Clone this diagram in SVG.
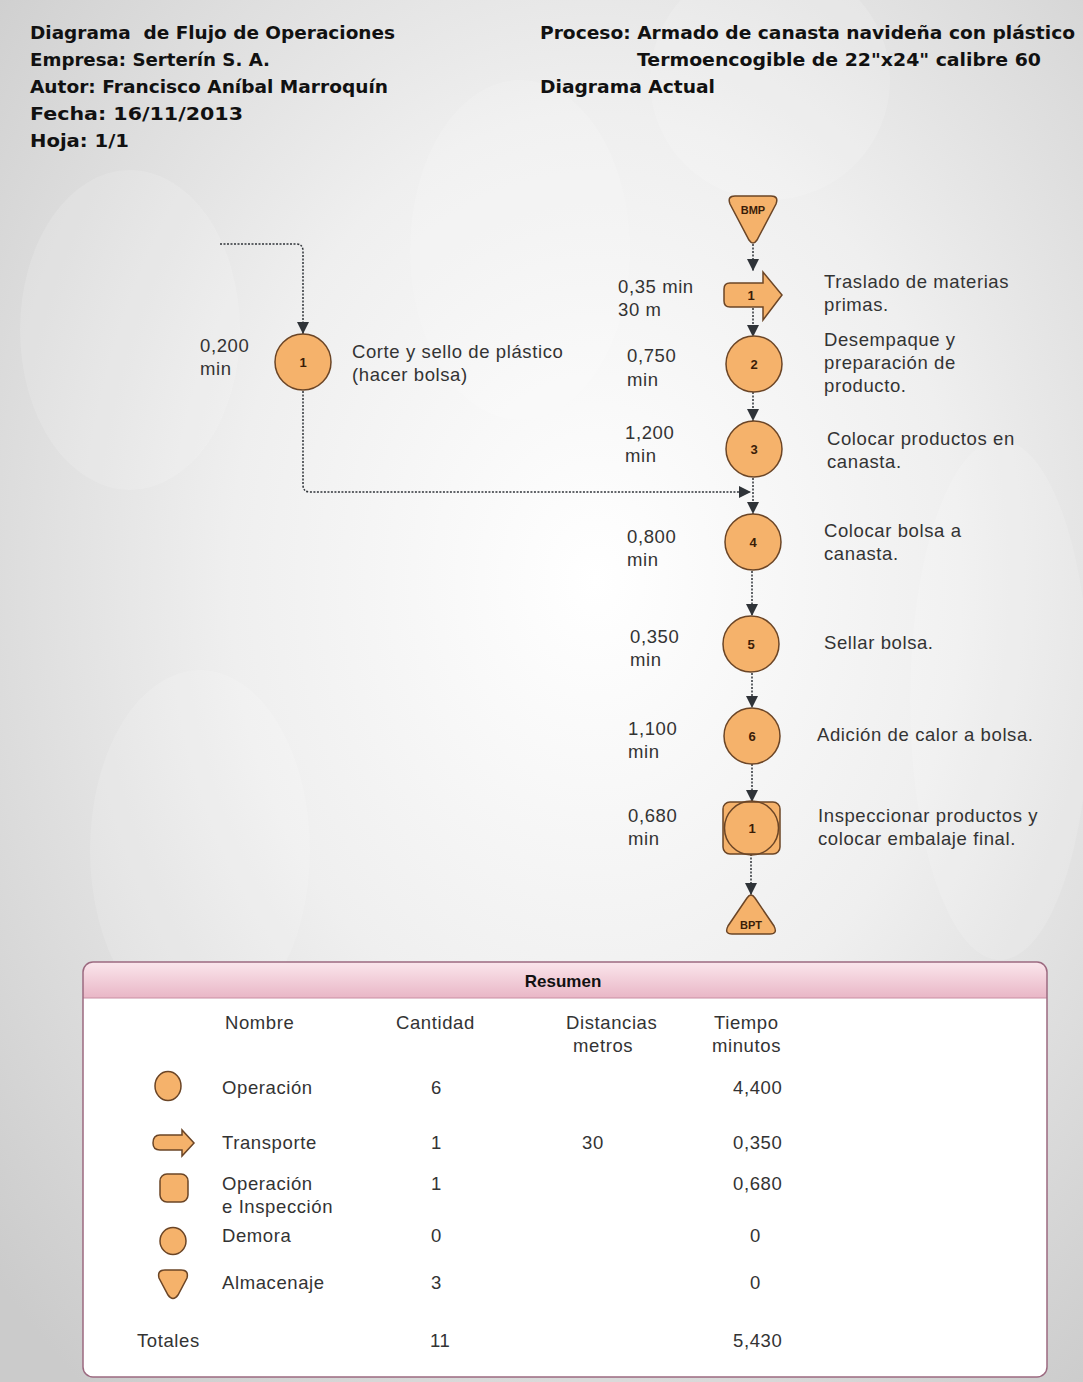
<svg xmlns="http://www.w3.org/2000/svg" width="1083" height="1382" viewBox="0 0 1083 1382">
<defs>
<radialGradient id="bg" cx="55%" cy="42%" r="75%">
<stop offset="0" stop-color="#ffffff"/>
<stop offset="0.45" stop-color="#efefef"/>
<stop offset="1" stop-color="#cbcbcb"/>
</radialGradient>
<linearGradient id="hdr" x1="0" y1="0" x2="0" y2="1">
<stop offset="0" stop-color="#fbe6ec"/>
<stop offset="1" stop-color="#e9b6c6"/>
</linearGradient>
<marker id="ah" viewBox="0 0 10 10" refX="10" refY="5" markerWidth="12" markerHeight="12" markerUnits="userSpaceOnUse" orient="auto">
<path d="M0,0 L10,5 L0,10 Z" fill="#2f3338"/>
</marker>
<style>
.h{font-family:"DejaVu Sans",Verdana,sans-serif;font-weight:bold;font-size:18.5px;fill:#111}
.t{font-family:"Liberation Sans",Arial,sans-serif;font-size:18.5px;letter-spacing:0.6px;fill:#333}
.n{font-family:"Liberation Sans",Arial,sans-serif;font-weight:bold;font-size:13px;fill:#3a1d08;text-anchor:middle}
.s{fill:#f5b26b;stroke:#6b4526;stroke-width:1.5}
.c{fill:none;stroke:#2f3338;stroke-width:1.5;stroke-dasharray:2,1.5;marker-end:url(#ah)}
</style>
</defs>
<rect x="0" y="0" width="1083" height="1382" fill="url(#bg)"/>
<g fill="#ffffff" opacity="0.14">
<ellipse cx="130" cy="330" rx="110" ry="160"/>
<ellipse cx="520" cy="250" rx="110" ry="170"/>
<ellipse cx="770" cy="80" rx="120" ry="120"/>
<ellipse cx="1000" cy="700" rx="90" ry="260"/>
<ellipse cx="200" cy="850" rx="110" ry="180"/>
</g>

<g id="header">
<text class="h" x="30" y="39" textLength="365" lengthAdjust="spacingAndGlyphs" xml:space="preserve">Diagrama  de Flujo de Operaciones</text>
<text class="h" x="30" y="66" textLength="240" lengthAdjust="spacingAndGlyphs">Empresa: Serterín S. A.</text>
<text class="h" x="30" y="93" textLength="358" lengthAdjust="spacingAndGlyphs">Autor: Francisco Aníbal Marroquín</text>
<text class="h" x="30" y="120" textLength="213" lengthAdjust="spacingAndGlyphs">Fecha: 16/11/2013</text>
<text class="h" x="30" y="147" textLength="99" lengthAdjust="spacingAndGlyphs">Hoja: 1/1</text>
<text class="h" x="540" y="39" textLength="535" lengthAdjust="spacingAndGlyphs">Proceso: Armado de canasta navideña con plástico</text>
<text class="h" x="637" y="66" textLength="404" lengthAdjust="spacingAndGlyphs">Termoencogible de 22"x24" calibre 60</text>
<text class="h" x="540" y="93" textLength="175" lengthAdjust="spacingAndGlyphs">Diagrama Actual</text>
</g>

<g id="connectors">
<path class="c" d="M753,244 V271"/>
<path class="c" d="M753,308 V337"/>
<path class="c" d="M753,392 V421"/>
<path class="c" d="M753,478 V514"/>
<path class="c" d="M220,244 H296 Q303,244 303,251 V334"/>
<path class="c" d="M303,391 V485 Q303,492 310,492 H751"/>
<path class="c" d="M752,571 V616"/>
<path class="c" d="M752,673 V708"/>
<path class="c" d="M752,764 V802"/>
<path class="c" d="M751,854 V895"/>
</g>

<g id="bmp">
<path class="s" d="M735,196 L771,196 Q779,196 776,204 L757,240 Q753,246 749,240 L730,204 Q727,196 735,196 Z"/>
<text class="n" x="753" y="214" style="font-size:11px">BMP</text>
</g>
<g id="transporte1">
<path class="s" d="M730,283 L763,283 L763,272 L782,295 L763,320 L763,307 L730,307 Q724,307 724,301 L724,289 Q724,283 730,283 Z"/>
<text class="n" x="751" y="300">1</text>
<text class="t" x="618" y="293">0,35 min</text>
<text class="t" x="618" y="316">30 m</text>
<text class="t" x="824" y="288">Traslado de materias</text>
<text class="t" x="824" y="311">primas.</text>
</g>
<g id="op2">
<circle class="s" cx="754" cy="364" r="28"/>
<text class="n" x="754" y="369">2</text>
<text class="t" x="627" y="362">0,750</text>
<text class="t" x="627" y="386">min</text>
<text class="t" x="824" y="346">Desempaque y</text>
<text class="t" x="824" y="369">preparación de</text>
<text class="t" x="824" y="392">producto.</text>
</g>
<g id="op3">
<circle class="s" cx="754" cy="449" r="28"/>
<text class="n" x="754" y="454">3</text>
<text class="t" x="625" y="439">1,200</text>
<text class="t" x="625" y="462">min</text>
<text class="t" x="827" y="445">Colocar productos en</text>
<text class="t" x="827" y="468">canasta.</text>
</g>
<g id="opL1">
<circle class="s" cx="303" cy="362" r="28"/>
<text class="n" x="303" y="367">1</text>
<text class="t" x="200" y="352">0,200</text>
<text class="t" x="200" y="375">min</text>
<text class="t" x="352" y="358">Corte y sello de plástico</text>
<text class="t" x="352" y="381">(hacer bolsa)</text>
</g>
<g id="op4">
<circle class="s" cx="753" cy="542" r="28"/>
<text class="n" x="753" y="547">4</text>
<text class="t" x="627" y="543">0,800</text>
<text class="t" x="627" y="566">min</text>
<text class="t" x="824" y="537">Colocar bolsa a</text>
<text class="t" x="824" y="560">canasta.</text>
</g>
<g id="op5">
<circle class="s" cx="751" cy="644" r="28"/>
<text class="n" x="751" y="649">5</text>
<text class="t" x="630" y="643">0,350</text>
<text class="t" x="630" y="666">min</text>
<text class="t" x="824" y="649">Sellar bolsa.</text>
</g>
<g id="op6">
<circle class="s" cx="752" cy="736" r="28"/>
<text class="n" x="752" y="741">6</text>
<text class="t" x="628" y="735">1,100</text>
<text class="t" x="628" y="758">min</text>
<text class="t" x="817" y="741">Adición de calor a bolsa.</text>
</g>
<g id="opinsp1">
<rect class="s" x="723" y="802" width="57" height="52" rx="7"/>
<circle cx="751.5" cy="828" r="27" fill="none" stroke="#6b4526" stroke-width="1.5"/>
<text class="n" x="752" y="833">1</text>
<text class="t" x="628" y="822">0,680</text>
<text class="t" x="628" y="845">min</text>
<text class="t" x="818" y="822">Inspeccionar productos y</text>
<text class="t" x="818" y="845">colocar embalaje final.</text>
</g>
<g id="bpt">
<path class="s" d="M747,898 Q751,892 755,898 L774,926 Q778,934 770,934 L732,934 Q724,934 728,926 Z"/>
<text class="n" x="751" y="929" style="font-size:11px">BPT</text>
</g>

<g id="resumen">
<rect x="83" y="962" width="964" height="415" rx="10" fill="#ffffff"/>
<path d="M93,962 H1037 Q1047,962 1047,972 V998 H83 V972 Q83,962 93,962 Z" fill="url(#hdr)"/>
<line x1="83" y1="998" x2="1047" y2="998" stroke="#c98ea3" stroke-width="1"/>
<rect x="83" y="962" width="964" height="415" rx="10" fill="none" stroke="#9c6a80" stroke-width="1.5"/>
<text x="563" y="987" text-anchor="middle" style="font-family:'Liberation Sans',Arial,sans-serif;font-weight:bold;font-size:17px;fill:#111">Resumen</text>

<text class="t" x="225" y="1029">Nombre</text>
<text class="t" x="396" y="1029">Cantidad</text>
<text class="t" x="566" y="1029">Distancias</text>
<text class="t" x="573" y="1052">metros</text>
<text class="t" x="714" y="1029">Tiempo</text>
<text class="t" x="712" y="1052">minutos</text>

<ellipse class="s" cx="168" cy="1086" rx="13" ry="14.5"/>
<text class="t" x="431" y="1094">6</text>
<text class="t" x="222" y="1094">Operación</text>
<text class="t" x="733" y="1094">4,400</text>

<path class="s" d="M160,1135 L182,1135 L182,1130 L194,1143 L182,1156 L182,1150 L160,1150 Q153,1150 153,1143 Q153,1135 160,1135 Z"/>
<text class="t" x="222" y="1149">Transporte</text>
<text class="t" x="431" y="1149">1</text>
<text class="t" x="582" y="1149">30</text>
<text class="t" x="733" y="1149">0,350</text>

<rect class="s" x="160" y="1174" width="28" height="28" rx="7"/>
<text class="t" x="222" y="1190">Operación</text>
<text class="t" x="222" y="1213">e Inspección</text>
<text class="t" x="431" y="1190">1</text>
<text class="t" x="733" y="1190">0,680</text>

<ellipse class="s" cx="173" cy="1241" rx="13" ry="13.5"/>
<text class="t" x="222" y="1242">Demora</text>
<text class="t" x="431" y="1242">0</text>
<text class="t" x="750" y="1242">0</text>

<path class="s" d="M165,1270 L181,1270 Q189,1270 187,1278 L178,1295 Q173,1302 168,1295 L159,1278 Q157,1270 165,1270 Z"/>
<text class="t" x="222" y="1289">Almacenaje</text>
<text class="t" x="431" y="1289">3</text>
<text class="t" x="750" y="1289">0</text>

<text class="t" x="137" y="1347">Totales</text>
<text class="t" x="430" y="1347">11</text>
<text class="t" x="733" y="1347">5,430</text>
</g>
</svg>
